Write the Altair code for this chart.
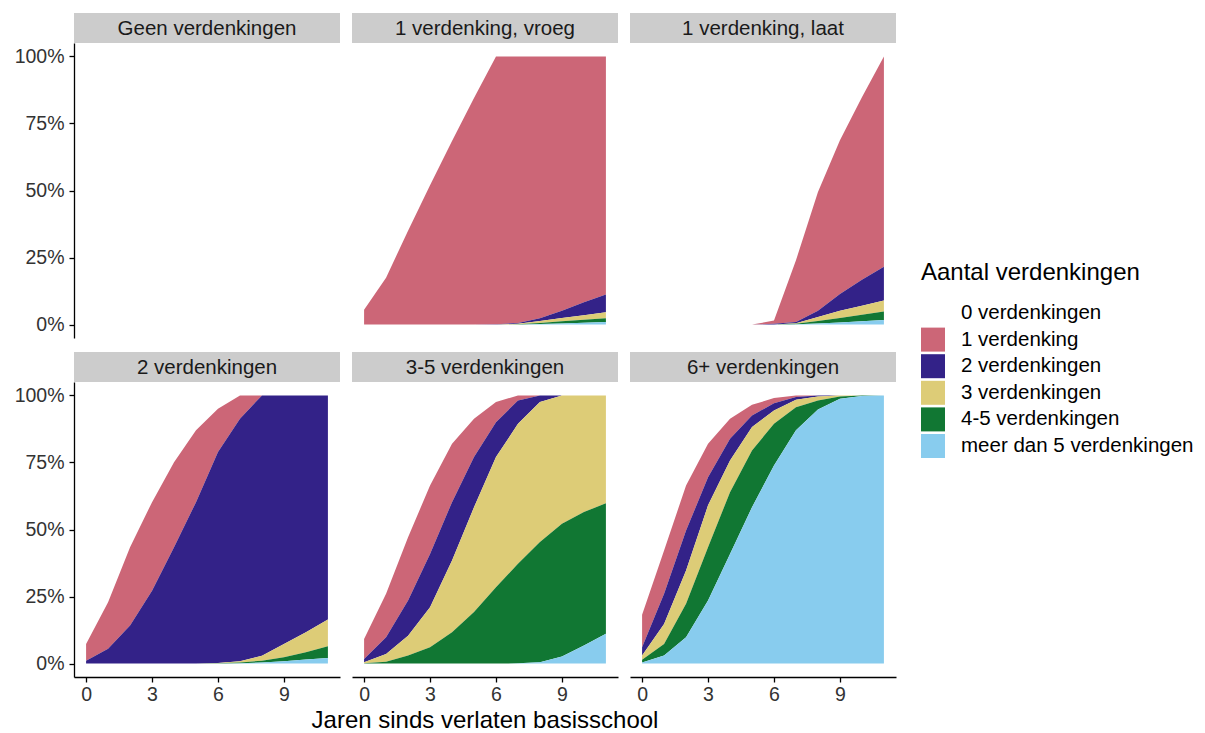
import altair as alt
import pandas as pd

FONT = "Liberation Sans"

years = list(range(12))
categories = ["0 verdenkingen", "1 verdenking", "2 verdenkingen", "3 verdenkingen",
              "4-5 verdenkingen", "meer dan 5 verdenkingen"]
colors = ["#FFFFFF", "#CC6677", "#332288", "#DDCC77", "#117733", "#88CCEE"]
panels = ["Geen verdenkingen", "1 verdenking, vroeg", "1 verdenking, laat",
          "2 verdenkingen", "3-5 verdenkingen", "6+ verdenkingen"]
x_title = "Jaren sinds verlaten basisschool"

# shares (%) per panel, per category, per year 0..11
geen = {
    "0 verdenkingen": [100] * 12,
    "1 verdenking": [0] * 12,
    "2 verdenkingen": [0] * 12,
    "3 verdenkingen": [0] * 12,
    "4-5 verdenkingen": [0] * 12,
    "meer dan 5 verdenkingen": [0] * 12,
}
vroeg = {
    "0 verdenkingen": [94.5, 82.5, 65, 48, 31.5, 15.5, 0, 0, 0, 0, 0, 0],
    "1 verdenking": [5.5, 17.5, 35, 52, 68.5, 84.5, 99.9, 99.4, 97.6, 94.8, 91.7, 88.8],
    "2 verdenkingen": [0, 0, 0, 0, 0, 0, 0.1, 0.3, 1.1, 2.7, 4.8, 6.6],
    "3 verdenkingen": [0, 0, 0, 0, 0, 0, 0, 0.2, 0.7, 1.3, 1.7, 2.2],
    "4-5 verdenkingen": [0, 0, 0, 0, 0, 0, 0, 0.1, 0.4, 0.8, 1.1, 1.4],
    "meer dan 5 verdenkingen": [0, 0, 0, 0, 0, 0, 0, 0, 0.2, 0.4, 0.7, 1.0],
}
laat = {
    "0 verdenkingen": [100, 100, 100, 100, 100, 100, 98.5, 76, 50.6, 31.3, 15.2, 0],
    "1 verdenking": [0, 0, 0, 0, 0, 0, 1.2, 23, 44.2, 57.3, 68.1, 78.4],
    "2 verdenkingen": [0, 0, 0, 0, 0, 0, 0.3, 0.5, 2.4, 6.2, 9.7, 12.6],
    "3 verdenkingen": [0, 0, 0, 0, 0, 0, 0, 0.2, 1.5, 2.7, 3.3, 4.1],
    "4-5 verdenkingen": [0, 0, 0, 0, 0, 0, 0, 0.2, 0.9, 1.7, 2.5, 3.2],
    "meer dan 5 verdenkingen": [0, 0, 0, 0, 0, 0, 0, 0.1, 0.4, 0.8, 1.2, 1.7],
}
twee = {
    "0 verdenkingen": [92.7, 77.1, 56.6, 39.8, 24.9, 13, 5, 0, 0, 0, 0, 0],
    "1 verdenking": [6.2, 17.4, 29.2, 33, 31.7, 26.8, 16.1, 8.7, 0, 0, 0, 0],
    "2 verdenkingen": [1.1, 5.5, 14.2, 27.2, 43.4, 60.2, 78.7, 90.4, 97.1, 92.7, 88.3, 83.6],
    "3 verdenkingen": [0, 0, 0, 0, 0, 0, 0.1, 0.5, 1.8, 4.9, 7.5, 9.9],
    "4-5 verdenkingen": [0, 0, 0, 0, 0, 0, 0.1, 0.3, 0.7, 1.5, 2.7, 4.4],
    "meer dan 5 verdenkingen": [0, 0, 0, 0, 0, 0, 0, 0.1, 0.4, 0.9, 1.5, 2.1],
}
drievijf = {
    "0 verdenkingen": [90.8, 74, 52.9, 33.6, 18, 8.7, 2.5, 0, 0, 0, 0, 0],
    "1 verdenking": [7.5, 16.2, 23.6, 25.5, 21.8, 14.3, 7.5, 1.9, 0, 0, 0, 0],
    "2 verdenkingen": [1.2, 6.2, 13.1, 19.9, 21.8, 18.7, 13, 8.7, 2.5, 0, 0, 0],
    "3 verdenkingen": [0.4, 2.9, 7.4, 14.9, 26.7, 39.1, 48.5, 52.2, 52.2, 47.9, 43.5, 40.2],
    "4-5 verdenkingen": [0.1, 0.7, 3, 6.1, 11.7, 19.2, 28.5, 37.1, 44.8, 49.5, 49.8, 48.7],
    "meer dan 5 verdenkingen": [0, 0, 0, 0, 0, 0, 0, 0.1, 0.5, 2.6, 6.7, 11.1],
}
zesplus = {
    "0 verdenkingen": [81.8, 57.8, 33.6, 18, 8.7, 3.5, 1, 0, 0, 0, 0, 0],
    "1 verdenking": [12.1, 16.2, 16.8, 12.5, 7.5, 4, 1.9, 0.6, 0, 0, 0, 0],
    "2 verdenkingen": [3.1, 11.2, 14.9, 10.5, 8.1, 4.3, 2.7, 1, 0.4, 0, 0, 0],
    "3 verdenkingen": [1.6, 7.5, 12.4, 15.6, 11.8, 8.7, 5, 2.8, 1.5, 0.4, 0, 0],
    "4-5 verdenkingen": [1, 4.3, 12.5, 19.9, 23, 21.2, 15.5, 8.6, 3.4, 0.8, 0.2, 0],
    "meer dan 5 verdenkingen": [0.4, 3, 9.8, 23.5, 40.9, 58.3, 73.9, 87, 94.7, 98.8, 99.8, 100],
}
panel_data = [geen, vroeg, laat, twee, drievijf, zesplus]

W, H, SH, GAP = 266, 295, 30, 12

color_scale = alt.Scale(domain=categories, range=colors)


def make_df(d):
    rows = []
    for ci, c in enumerate(categories):
        for x, v in zip(years, d[c]):
            rows.append({"jaar": x, "cat": c, "share": v / 100.0,
                         "order": len(categories) - ci})
    return pd.DataFrame(rows)


def panel(name, d, show_y, show_x):
    df = make_df(d)
    if show_x:
        xaxis = alt.Axis(values=[0, 3, 6, 9], title=None,
                         grid=False, domainColor="black", tickColor="black",
                         labelFontSize=19.5, labelColor="#333333",
                         tickSize=5, labelPadding=3, domainWidth=1.3, tickWidth=1.3)
    else:
        xaxis = None
    if show_y:
        yaxis = alt.Axis(values=[0, 0.25, 0.5, 0.75, 1.0], format=".0%", title=None,
                         grid=False, domainColor="black", tickColor="black",
                         labelFontSize=19.5, labelColor="#333333", tickSize=5,
                         labelPadding=5, domainWidth=1.3, tickWidth=1.3)
    else:
        yaxis = None
    area = alt.Chart(df).mark_area(interpolate="linear").encode(
        x=alt.X("jaar:Q", scale=alt.Scale(domain=[-0.55, 11.55], nice=False, zero=False),
                axis=xaxis),
        y=alt.Y("share:Q", stack="zero",
                scale=alt.Scale(domain=[-0.05, 1.05], nice=False, zero=False),
                axis=yaxis),
        color=alt.Color("cat:N", scale=color_scale, sort=categories,
                        legend=alt.Legend(title="Aantal verdenkingen", orient="none",
                                          legendX=847, legendY=248,
                                          symbolType="square", symbolSize=576,
                                          symbolStrokeWidth=0, labelFontSize=20.5,
                                          titleFontSize=24, titleFontWeight="normal",
                                          labelOffset=16, rowPadding=2.6,
                                          titlePadding=16, labelColor="black",
                                          titleColor="black", labelLimit=0,
                                          titleLimit=0)),
        order=alt.Order("order:Q", sort="ascending"),
    ).properties(width=W, height=H)

    sdf = pd.DataFrame({"label": [name]})
    rect = alt.Chart(sdf).mark_rect(color="#CCCCCC").encode(
        x=alt.value(0), x2=alt.value(W), y=alt.value(0), y2=alt.value(SH))
    text = alt.Chart(sdf).mark_text(fontSize=20.5, font=FONT, color="#1a1a1a",
                                    baseline="middle", align="center").encode(
        x=alt.value(W / 2), y=alt.value(SH / 2 + 1), text="label:N")
    strip = alt.layer(rect, text).properties(width=W, height=SH)
    return alt.vconcat(strip, area, spacing=0)


row1 = alt.hconcat(
    panel(panels[0], panel_data[0], True, False),
    panel(panels[1], panel_data[1], False, False),
    panel(panels[2], panel_data[2], False, False),
    spacing=GAP,
)
row2 = alt.hconcat(
    panel(panels[3], panel_data[3], True, True),
    panel(panels[4], panel_data[4], False, True),
    panel(panels[5], panel_data[5], False, True),
    spacing=GAP,
)

TW = 3 * W + 2 * GAP
tdf = pd.DataFrame({"t": [x_title]})
title_chart = alt.Chart(tdf).mark_text(fontSize=24, font=FONT, color="black",
                                       baseline="middle", align="center").encode(
    x=alt.value(TW / 2), y=alt.value(17), text="t:N"
).properties(width=TW, height=28)

grid = alt.vconcat(row1, row2, spacing=14)
chart = alt.vconcat(grid, title_chart, spacing=0).properties(
    padding={"left": 6, "top": 5, "right": 0, "bottom": 0}
).configure(font=FONT).configure_view(strokeWidth=0, stroke="transparent")

chart.save("out.html", embed_options={"renderer": "svg", "actions": False})
